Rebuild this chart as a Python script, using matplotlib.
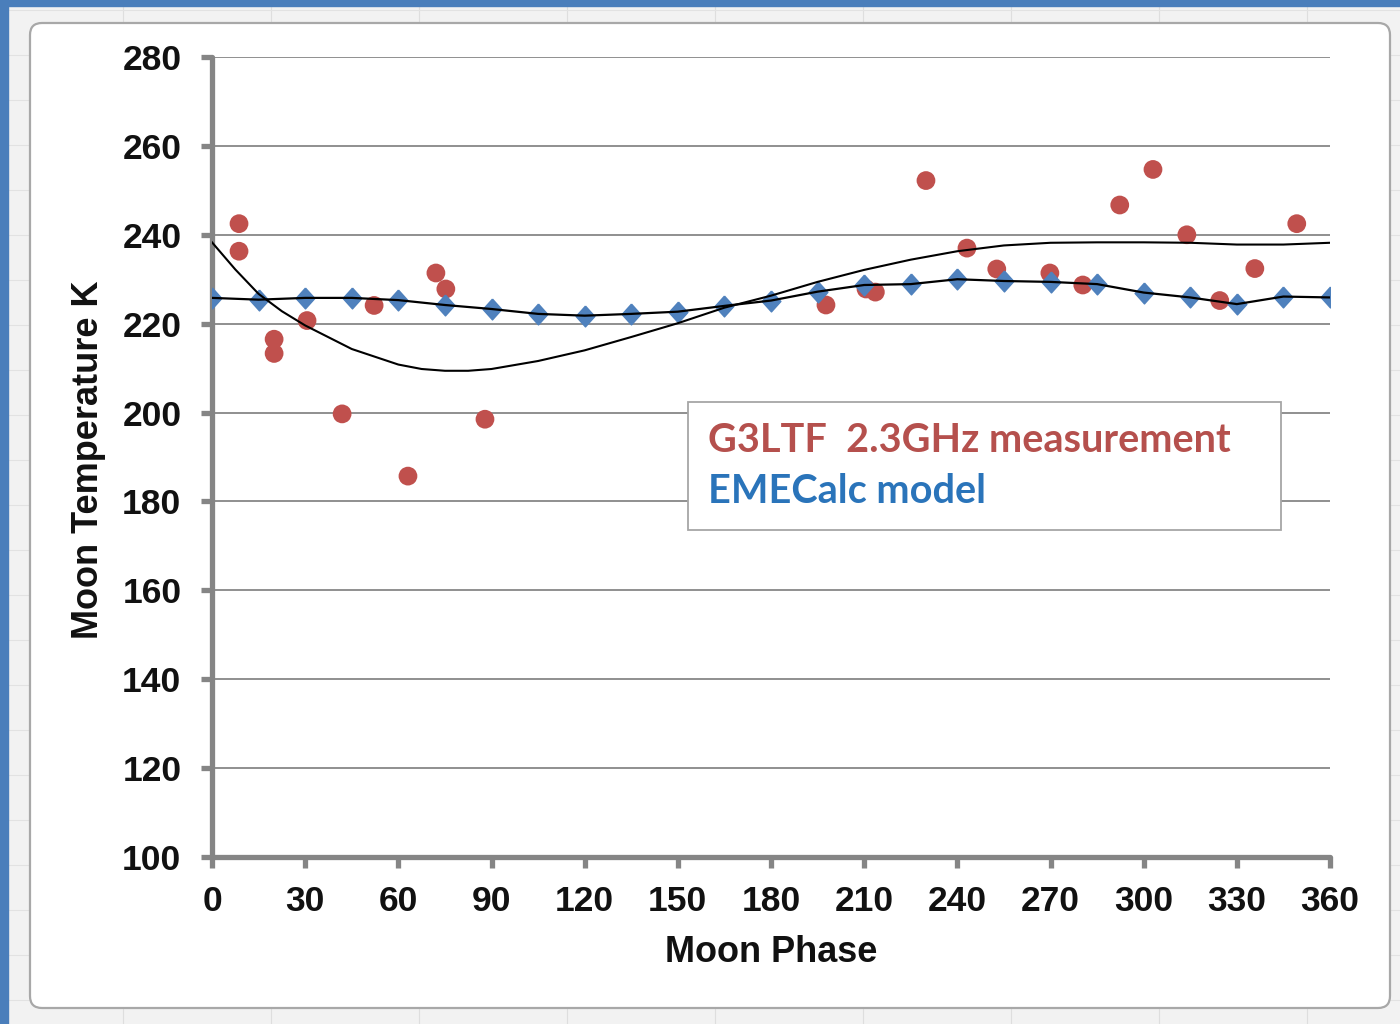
import matplotlib.pyplot as plt
from matplotlib.patches import FancyBboxPatch, Rectangle
from matplotlib.lines import Line2D
from matplotlib.transforms import IdentityTransform

# G3LTF 2.3 GHz moon temperature measurements
meas_phase = [8.7, 8.7, 20.0, 20.0, 30.6, 41.9, 52.2, 63.1, 72.1, 75.3, 87.9,
              197.7, 210.6, 213.6, 229.9, 243.1, 252.7, 269.8, 280.4, 292.3,
              303.0, 313.9, 324.5, 335.8, 349.3]
meas_temp = [242.5, 236.3, 216.5, 213.3, 220.7, 199.7, 224.1, 185.7, 231.4, 227.8,
             198.5, 224.2, 227.8, 227.1, 252.2, 237.0, 232.3, 231.4, 228.7, 246.7,
             254.7, 240.0, 225.2, 232.4, 242.5]

# EMECalc model, every 15 degrees
model_phase = [0, 15, 30, 45, 60, 75, 90, 105, 120, 135, 150, 165, 180,
               195, 210, 225, 240, 255, 270, 285, 300, 315, 330, 345, 360]
model_temp = [225.8, 225.4, 225.8, 225.8, 225.3, 224.2, 223.3, 222.2, 221.8,
              222.2, 222.7, 224.0, 225.2, 227.2, 228.7, 228.9, 230.0, 229.6,
              229.4, 228.9, 227.0, 225.9, 224.4, 226.1, 225.9]

# trend line through the measurements
trend_phase = [0, 7.5, 15, 22.5, 30, 45, 60, 67.5, 75, 82.5, 90, 105, 120, 135,
               150, 165, 180, 195, 210, 225, 240, 255, 270, 285, 300, 315, 330,
               345, 360]
trend_temp = [238.3, 232.2, 226.7, 222.8, 219.6, 214.3, 210.8, 209.8, 209.4,
              209.4, 209.8, 211.6, 214.0, 217.0, 220.1, 223.6, 226.3, 229.4,
              232.1, 234.4, 236.3, 237.6, 238.2, 238.3, 238.3, 238.2, 237.8,
              237.8, 238.2]

x_ticks = list(range(0, 361, 30))
y_ticks = list(range(100, 281, 20))

W, H = 1400, 1024
RED = "#C0504D"
BLUE = "#4F81BD"
GRAY = "#858585"


def px(x, y):
    # image pixel (top-left origin) -> display coords
    return x, H - y


fig = plt.figure(figsize=(W / 100, H / 100), dpi=100)
fig.patch.set_facecolor("#f2f2f2")

# sheet cell lines around the chart
for cx in range(123, W, 148):
    fig.add_artist(Line2D([cx, cx], [0, H], transform=IdentityTransform(),
                          color="#dedede", lw=0.8, zorder=-3))
for cy in range(10, H, 45):
    fig.add_artist(Line2D([0, W], [H - cy, H - cy], transform=IdentityTransform(),
                          color="#e2e2e2", lw=0.8, zorder=-3))

# window frame
fig.add_artist(Rectangle(px(0, 6), W, 6, transform=IdentityTransform(),
                         color="#4A7EBB", zorder=-2))
fig.add_artist(Rectangle(px(0, H), 8, H, transform=IdentityTransform(),
                         color="#4A7EBB", zorder=-2))

# chart area
x0, y0 = px(30, 1008)
fig.add_artist(FancyBboxPatch((x0, y0), 1390 - 30, 1008 - 23,
                              boxstyle="round,pad=0,rounding_size=12",
                              transform=IdentityTransform(),
                              facecolor="white", edgecolor="#a8a8a8",
                              lw=1.6, zorder=-1))

ax = fig.add_axes([212 / W, 1 - 857 / H, 1118 / W, 800 / H])
ax.set_facecolor("none")

ax.scatter(meas_phase, meas_temp, s=13.5 ** 2, color=RED, edgecolors="none",
           zorder=3)
diamond = [(0, 1), (0.9, 0), (0, -1), (-0.9, 0), (0, 1)]
ax.plot(model_phase, model_temp, linestyle="none", marker=diamond,
        markersize=15, color=BLUE, zorder=3)
ax.plot(model_phase, model_temp, color="black", lw=1.6, zorder=4)
ax.plot(trend_phase, trend_temp, color="black", lw=1.5, zorder=4)

ax.set_xlim(0, 360)
ax.set_ylim(100, 280)
ax.set_xticks(x_ticks)
ax.set_yticks(y_ticks)

ax.grid(axis="y", color="#8f8f8f", lw=1.4)
ax.set_axisbelow(True)
for side in ("top", "right"):
    ax.spines[side].set_visible(False)
for side in ("left", "bottom"):
    ax.spines[side].set_color(GRAY)
    ax.spines[side].set_linewidth(3.8)
    ax.spines[side].set_capstyle("round")

tick_font = {"family": "Liberation Sans", "weight": "bold", "size": 25.5}
ax.tick_params(axis="both", length=8, width=3.8, color=GRAY, labelcolor="#111111")
ax.tick_params(axis="x", pad=12)
ax.tick_params(axis="y", pad=14)
for lab in ax.get_xticklabels() + ax.get_yticklabels():
    lab.set_fontproperties(tick_font)
    lab.set_fontsize(25.5)

label_font = {"family": "Liberation Sans", "weight": "bold", "size": 26}
ax.set_xlabel("Moon Phase", fontdict=label_font, color="#111111")
ax.set_ylabel("Moon Temperature K", fontdict=label_font, color="#111111")
ax.xaxis.set_label_coords(0.5004, -0.0975)
ax.yaxis.set_label_coords(-0.0948, 0.496)

handles = [Line2D([], [], linestyle="none"), Line2D([], [], linestyle="none")]
leg = ax.legend(handles, ["G3LTF  2.3GHz measurement", "EMECalc model"],
                loc="upper left", bbox_to_anchor=(0.4258, 0.411, 0.5304, 0.158),
                mode="expand", borderaxespad=0, handlelength=0, handletextpad=0,
                labelcolor=["#B5504D", "#2A74BA"], fancybox=False,
                framealpha=1, edgecolor="#a6a6a6", borderpad=0.5,
                labelspacing=0.36,
                prop={"family": "Lato", "weight": "bold", "size": 28.5})
leg.get_frame().set_linewidth(1.3)
leg.set_zorder(5)

fig.savefig("out.png", dpi=100)
